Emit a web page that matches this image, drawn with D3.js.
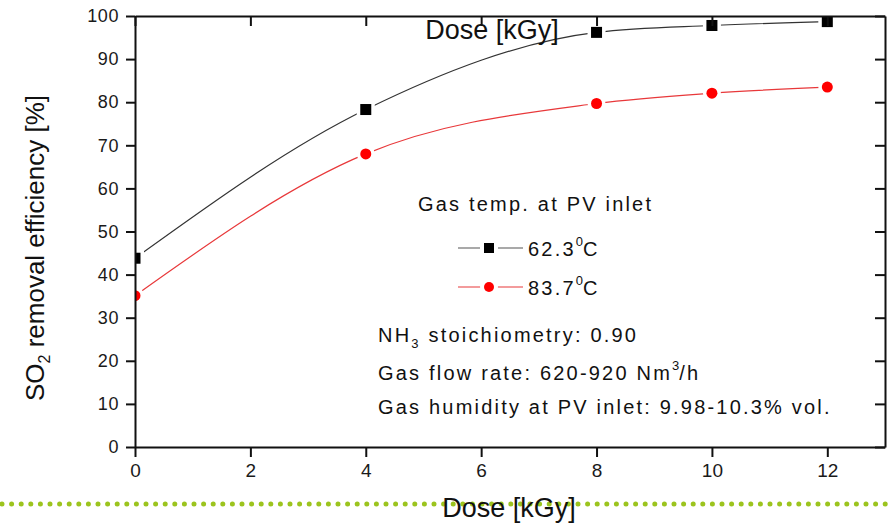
<!DOCTYPE html>
<html>
<head>
<meta charset="utf-8">
<script src="https://cdn.jsdelivr.net/npm/d3@7"></script>
<style>
  body { margin: 0; background: #fff; }
  svg { display: block; }
  text { font-family: "Liberation Sans", Arial, sans-serif; fill: #111; }
  .axis path, .axis line { stroke: #111; stroke-width: 2; }
  .axis text { font-family: "Liberation Sans", Arial, sans-serif; fill: #1a1a1a; }
</style>
</head>
<body>
<div id="graph"></div>
<script>
var doses = [0, 4, 8, 10, 12];
var eff623 = [43.8, 78.3, 96.2, 97.8, 98.7];
var eff837 = [35.1, 68.0, 79.7, 82.1, 83.5];
var seriesNames = ["62.3", "83.7"];
var xTicks = [0, 2, 4, 6, 8, 10, 12];
var xMinor = [0, 1, 2, 3, 4, 5, 6, 7, 8, 9, 10, 11, 12, 13];
var yTicks = [0, 10, 20, 30, 40, 50, 60, 70, 80, 90, 100];
var yMinor = [5, 15, 25, 35, 45, 55, 65, 75, 85, 95];

var W = 889, H = 523;
var margin = { top: 16, right: 4, bottom: 76, left: 135 };
var w = W - margin.left - margin.right;
var h = H - margin.top - margin.bottom;

var svg = d3.select('#graph').append('svg')
  .attr('width', W)
  .attr('height', H);

var xScale = d3.scaleLinear().domain([0, 13]).range([margin.left, margin.left + w]);
var yScale = d3.scaleLinear().domain([0, 100]).range([margin.top + h, margin.top]);

// green dotted rule behind the bottom title
svg.append('line')
  .attr('x1', 2).attr('x2', W)
  .attr('y1', 504).attr('y2', 504)
  .style('stroke', '#9cc41e')
  .style('stroke-width', 5)
  .style('stroke-linecap', 'round')
  .style('stroke-dasharray', '0 9.6');

svg.append('clipPath').attr('id', 'plotclip')
  .append('rect')
  .attr('x', margin.left).attr('y', margin.top)
  .attr('width', w).attr('height', h);

var series = [
  { name: seriesNames[0], values: eff623, line: '#333', fill: '#000', shape: 'square' },
  { name: seriesNames[1], values: eff837, line: '#e8383a', fill: '#ff0000', shape: 'circle' }
];

var line = d3.line()
  .x(function (d, i) { return xScale(doses[i]); })
  .y(function (d) { return yScale(d); })
  .curve(d3.curveMonotoneX);

var plot = svg.append('g').attr('clip-path', 'url(#plotclip)');

series.forEach(function (s) {
  plot.append('path')
    .attr('d', line(s.values))
    .style('fill', 'none')
    .style('stroke', s.line)
    .style('stroke-width', 1.2);
});

function drawMarker(g, shape, cx, cy, fill, halo) {
  if (shape === 'square') {
    g.append('rect')
      .attr('x', cx - 5.5).attr('y', cy - 5.5)
      .attr('width', 11).attr('height', 11)
      .style('fill', fill)
      .style('stroke', halo ? '#fff' : 'none')
      .style('stroke-width', halo ? 7 : 0);
  } else {
    g.append('circle')
      .attr('cx', cx).attr('cy', cy).attr('r', 5.5)
      .style('fill', fill)
      .style('stroke', halo ? '#fff' : 'none')
      .style('stroke-width', halo ? 7 : 0);
  }
}

series.forEach(function (s) {
  s.values.forEach(function (v, i) {
    drawMarker(plot, s.shape, xScale(doses[i]), yScale(v), '#fff', true);
  });
});
series.forEach(function (s) {
  s.values.forEach(function (v, i) {
    drawMarker(plot, s.shape, xScale(doses[i]), yScale(v), s.fill, false);
  });
});

// axes
var gx = svg.append('g').attr('class', 'axis')
  .attr('transform', 'translate(0,' + (margin.top + h) + ')');
gx.call(d3.axisBottom(xScale).tickValues(xMinor).tickSize(6).tickSizeOuter(0).tickFormat(''));
gx.call(d3.axisBottom(xScale).tickValues(xTicks).tickSize(10).tickSizeOuter(0).tickPadding(7));
gx.selectAll('text').style('font-size', '19px');

var gxt = svg.append('g').attr('class', 'axis')
  .attr('transform', 'translate(0,' + margin.top + ')');
gxt.call(d3.axisTop(xScale).tickValues(xMinor).tickSize(-6).tickSizeOuter(0).tickFormat(''));
gxt.call(d3.axisTop(xScale).tickValues(xTicks).tickSize(-10).tickSizeOuter(0).tickFormat(''));

var gy = svg.append('g').attr('class', 'axis')
  .attr('transform', 'translate(' + margin.left + ',0)');
gy.call(d3.axisLeft(yScale).tickValues(yMinor).tickSize(5).tickSizeOuter(0).tickFormat(''));
gy.call(d3.axisLeft(yScale).tickValues(yTicks).tickSize(9).tickSizeOuter(0).tickPadding(7));
gy.selectAll('text').style('font-size', '18px').style('letter-spacing', '0.6px');

var gyr = svg.append('g').attr('class', 'axis')
  .attr('transform', 'translate(' + (margin.left + w) + ',0)');
gyr.call(d3.axisRight(yScale).tickValues(yMinor).tickSize(-5).tickSizeOuter(0).tickFormat(''));
gyr.call(d3.axisRight(yScale).tickValues(yTicks).tickSize(-10).tickSizeOuter(0).tickFormat(''));

// titles
svg.append('text')
  .attr('x', 509).attr('y', 517)
  .attr('text-anchor', 'middle')
  .style('font-size', '27px')
  .text('Dose [kGy]');

svg.append('text')
  .attr('x', 492).attr('y', 39)
  .attr('text-anchor', 'middle')
  .style('font-size', '27px')
  .text('Dose [kGy]');

var ylab = svg.append('text')
  .attr('transform', 'translate(44,' + 248 + ') rotate(-90)')
  .attr('text-anchor', 'middle')
  .style('font-size', '26px');
ylab.append('tspan').text('SO');
ylab.append('tspan').attr('dy', 6).style('font-size', '16px').text('2');
ylab.append('tspan').attr('dy', -6).text(' removal efficiency [%]');

// legend and notes
function styled(t) {
  return t.style('font-size', '20px').style('letter-spacing', '2.2px');
}

styled(svg.append('text').attr('x', 418).attr('y', 211)).text('Gas temp. at PV inlet');

var legRows = [248, 287];
series.forEach(function (s, i) {
  var ly = legRows[i];
  svg.append('line')
    .attr('x1', 458).attr('x2', 523)
    .attr('y1', ly).attr('y2', ly)
    .style('stroke', i === 0 ? '#555' : '#e8383a')
    .style('stroke-width', 1.2);
  drawMarker(svg, s.shape, 489, ly, '#fff', true);
  if (s.shape === 'square') {
    svg.append('rect').attr('x', 484).attr('y', ly - 5).attr('width', 10).attr('height', 10).style('fill', s.fill);
  } else {
    svg.append('circle').attr('cx', 489).attr('cy', ly).attr('r', 5).style('fill', s.fill);
  }
  var t = styled(svg.append('text').attr('x', 528).attr('y', ly + 8));
  t.append('tspan').text(s.name);
  t.append('tspan').attr('dy', -10).style('font-size', '13px').style('letter-spacing', '0px').text('0');
  t.append('tspan').attr('dy', 10).text('C');
});

var nh = styled(svg.append('text').attr('x', 378).attr('y', 342));
nh.append('tspan').text('NH');
nh.append('tspan').attr('dy', 6).style('font-size', '13px').text('3');
nh.append('tspan').attr('dy', -6).text(' stoichiometry: 0.90');

var fl = styled(svg.append('text').attr('x', 378).attr('y', 380));
fl.append('tspan').text('Gas flow rate: 620-920 Nm');
fl.append('tspan').attr('dy', -10).style('font-size', '13px').style('letter-spacing', '0px').text('3');
fl.append('tspan').attr('dy', 10).text('/h');

styled(svg.append('text').attr('x', 378).attr('y', 414)).text('Gas humidity at PV inlet: 9.98-10.3% vol.');
</script>
</body>
</html>
